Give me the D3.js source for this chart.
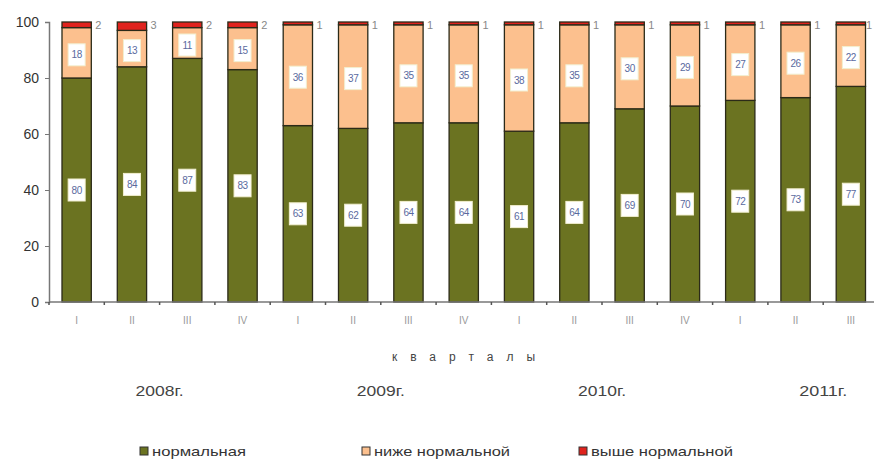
<!DOCTYPE html>
<html><head><meta charset="utf-8">
<script src="https://cdn.jsdelivr.net/npm/d3@7/dist/d3.min.js"></script>
<style>body{margin:0;background:#fff}svg{display:block}text{font-family:"Liberation Sans",Arial,sans-serif}</style>
</head><body>
<svg id="c" width="874" height="461"></svg>
<script>
const quarters = ["I","II","III","IV","I","II","III","IV","I","II","III","IV","I","II","III"];
const normal = [80,84,87,83,63,62,64,64,61,64,69,70,72,73,77];
const below  = [18,13,11,15,36,37,35,35,38,35,30,29,27,26,22];
const above  = [2,3,2,2,1,1,1,1,1,1,1,1,1,1,1];
const years = ["2008г.","2009г.","2010г.","2011г."];
const seriesNames = ["нормальная","ниже нормальной","выше нормальной"];
const yTicks = [0,20,40,60,80,100];

const colors = ["#6b7321","#fcc08e","#e0231d"];
const svg = d3.select("#c");
const left = 49, band = 55.3;
const ids = d3.range(quarters.length);
const x = d3.scaleBand().domain(ids).range([left, left + band*quarters.length]).paddingInner(0.47).paddingOuter(0.235);
const y = d3.scaleLinear().domain([0,100]).range([302,22]);

const rows = ids.map(i => ({i, n: normal[i], b: below[i], a: above[i]}));
const stack = d3.stack().keys(["n","b","a"])(rows);

// axes
const gy = svg.append("g").attr("transform",`translate(${left},0)`)
  .call(d3.axisLeft(y).tickValues(yTicks).tickSize(4).tickPadding(6));
gy.select(".domain").attr("stroke","#777").attr("stroke-width",1.5);
gy.selectAll(".tick line").attr("stroke","#777");
gy.selectAll("text").attr("font-size",14).attr("fill","#333");

// bars
stack.forEach((s,k) => {
  svg.append("g").selectAll("rect").data(s).join("rect")
    .attr("x", d => x(d.data.i))
    .attr("width", x.bandwidth())
    .attr("y", d => y(d[1]))
    .attr("height", d => y(d[0]) - y(d[1]))
    .attr("fill", colors[k])
    .attr("stroke","#2b2a18").attr("stroke-width",1.3);
});

// x axis
const xEnd = 874;
svg.append("line").attr("x1",left).attr("x2",xEnd).attr("y1",y(0)).attr("y2",y(0)).attr("stroke","#777").attr("stroke-width",1.5);
svg.append("g").selectAll("line").data(d3.range(quarters.length+1)).join("line")
  .attr("x1", d => left + d*band).attr("x2", d => left + d*band)
  .attr("y1", y(0)).attr("y2", y(0)+3).attr("stroke","#555").attr("stroke-width",1.5);
svg.append("g").selectAll("text").data(ids).join("text")
  .attr("x", i => x(i) + x.bandwidth()/2).attr("y", 324)
  .attr("text-anchor","middle").attr("font-size",10).attr("fill","#999")
  .text(i => quarters[i]);

// value labels in boxes
function boxLabel(g, cx, cy, txt) {
  g.append("rect").attr("x", cx-8.5).attr("y", cy-11).attr("width",17).attr("height",22)
    .attr("fill","#fff").attr("stroke","#f2efd0").attr("stroke-width",1);
  g.append("text").attr("x",cx).attr("y",cy+3.5).attr("text-anchor","middle")
    .attr("font-size",10).attr("fill","#5a6a9e").attr("letter-spacing","-0.5").text(txt);
}
const lg = svg.append("g");
rows.forEach(r => {
  const cx = x(r.i) + x.bandwidth()/2;
  boxLabel(lg, cx, y(r.n/2), r.n);
  boxLabel(lg, cx, y(r.n + r.b/2) + 2, r.b);
  lg.append("text").attr("x", Math.min(x(r.i) + x.bandwidth() + 4, 866)).attr("y", y(100) + 7)
    .attr("font-size",11).attr("fill","#888").text(r.a);
});

// axis title
svg.append("text").attr("x", 470).attr("y", 361).attr("text-anchor","middle")
  .attr("font-size",12).attr("fill","#444").attr("letter-spacing","13").text("кварталы");

// years
svg.append("g").selectAll("text").data(years).join("text")
  .attr("x", (d,j) => left + (j*4+2)*band).attr("y", 396)
  .attr("text-anchor","middle").attr("font-size",14).attr("fill","#444")
  .attr("textLength",48).attr("lengthAdjust","spacingAndGlyphs").text(d => d);

// legend
const legX = [140, 362, 579];
const legW = [94, 136, 142];
const leg = svg.append("g");
seriesNames.forEach((nm,k) => {
  leg.append("rect").attr("x", legX[k]).attr("y", 447).attr("width",8).attr("height",8)
    .attr("fill", colors[k]).attr("stroke","#333").attr("stroke-width",1);
  leg.append("text").attr("x", legX[k]+12).attr("y", 456).attr("font-size",13)
    .attr("fill","#333").attr("textLength",legW[k]).attr("lengthAdjust","spacingAndGlyphs").text(nm);
});
</script>
</body></html>
